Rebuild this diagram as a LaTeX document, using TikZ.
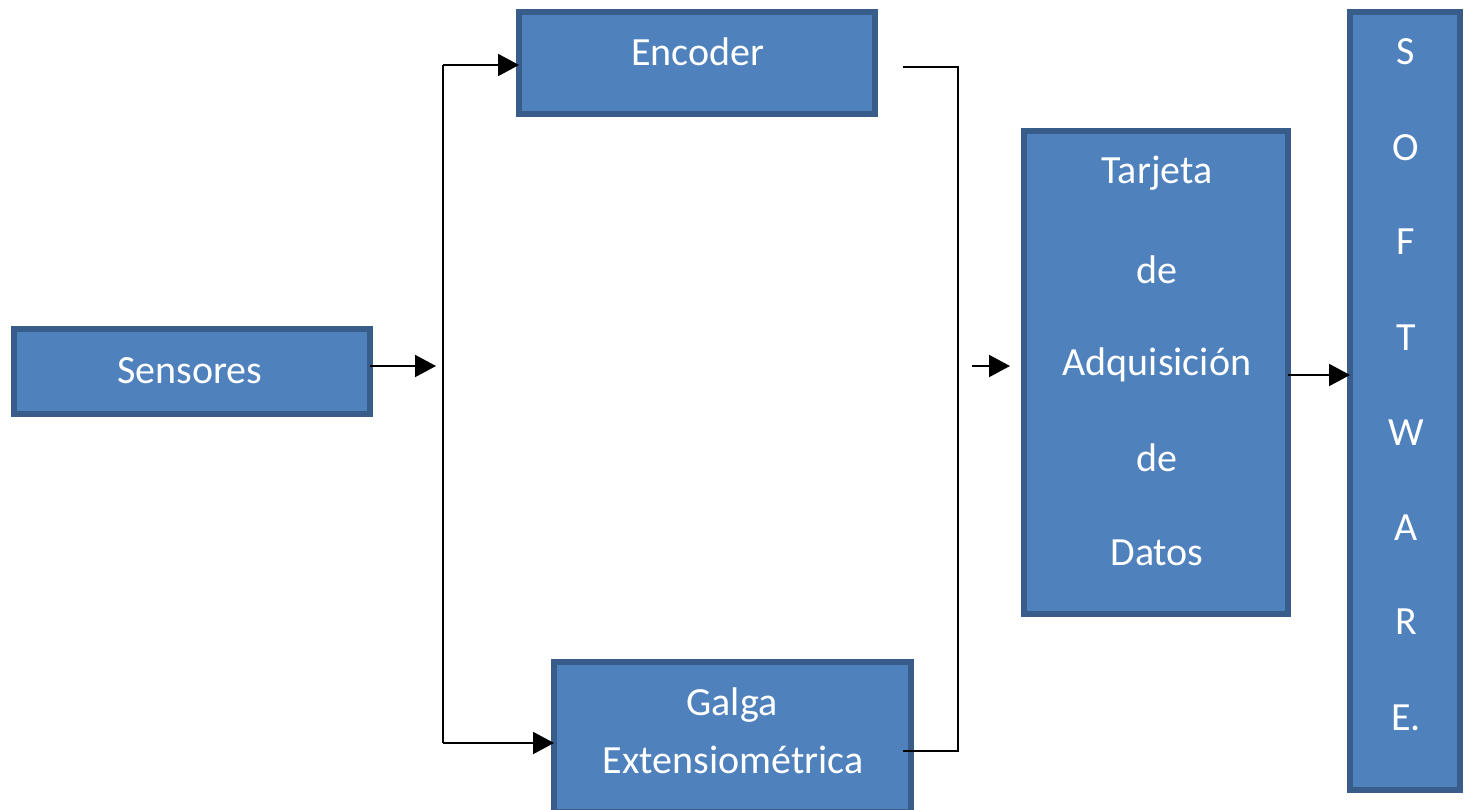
\documentclass[tikz,border=0pt]{standalone}
\usepackage{fontspec}
\setmainfont{Carlito}
\usetikzlibrary{arrows.meta}
\definecolor{boxfill}{HTML}{4F81BD}
\definecolor{boxedge}{HTML}{385D8A}
\tikzset{
  blockbox/.style={draw=boxedge, fill=boxfill, line width=6.5pt, inner sep=0pt, outer sep=0pt},
  lbl/.style={text=white, font=\fontsize{40}{48}\selectfont, inner sep=0pt},
  wire/.style={draw=black, line width=2pt},
  flow/.style={wire, -{Triangle[length=21pt,width=22pt]}},
}
\begin{document}
\begin{tikzpicture}[x=1pt,y=-1pt]
\useasboundingbox (0,0) rectangle (1464,809);

% blocks (outer edge minus half the border on each side)
\node[blockbox, minimum width=356pt, minimum height=85pt] (sens) at (192,371.5) {};
\node[blockbox, minimum width=356pt, minimum height=102pt] (enc) at (697,63) {};
\node[blockbox, minimum width=357pt, minimum height=150pt] (gal) at (732.5,737) {};
\node[blockbox, minimum width=264pt, minimum height=483pt] (tar) at (1156,372.5) {};
\node[blockbox, minimum width=110pt, minimum height=778pt] (soft) at (1405,401) {};

% labels
\node[lbl] (tsens) at (190,371) {Sensores};
\node[lbl] (tenc) at (698,52) {Encoder};
\node[lbl] (tgal1) at (732,705) {Galga};
\node[lbl] (tgal2) at (733,760) {Extensiométrica};
\node[lbl] (ttar1) at (1157,173) {Tarjeta};
\node[lbl] (ttar2) at (1157,270) {de};
\node[lbl] (ttar3) at (1157,365) {Adquisición};
\node[lbl] (ttar4) at (1157,458) {de};
\node[lbl] (ttar5) at (1157,553) {Datos};
\foreach \ch/\yy [count=\k] in {S/52,O/148,F/242,T/338,W/433,A/528,R/622,E./718}
  \node[lbl] (tsoft\k) at (1406,\yy) {\ch};

% branching from the sensors
\coordinate (sensEnd) at (436,366);
\coordinate (splitTop) at (443,65);
\coordinate (splitBot) at (443,743);
\draw[flow] (sens.east |- sensEnd) -- (sensEnd);
\draw[wire] (splitTop) -- (splitBot);
\draw[flow] (splitTop) -- (enc.west |- splitTop);
\draw[flow] (splitBot) -- (gal.west |- splitBot);

% merging towards the acquisition card
\coordinate (encOut) at (903,67);
\coordinate (joinTop) at (958,67);
\coordinate (joinBot) at (958,751);
\coordinate (galOut) at (903,751);
\draw[wire] (galOut) -- (joinBot) -- (joinTop) -- (encOut);
\coordinate (cardIn) at (972,366);
\coordinate (cardTip) at (1010,366);
\draw[flow] (cardIn) -- (cardTip);

% card to software
\draw[flow] (tar.east |- 0,375) -- (soft.west |- 0,375);
\end{tikzpicture}
\end{document}
